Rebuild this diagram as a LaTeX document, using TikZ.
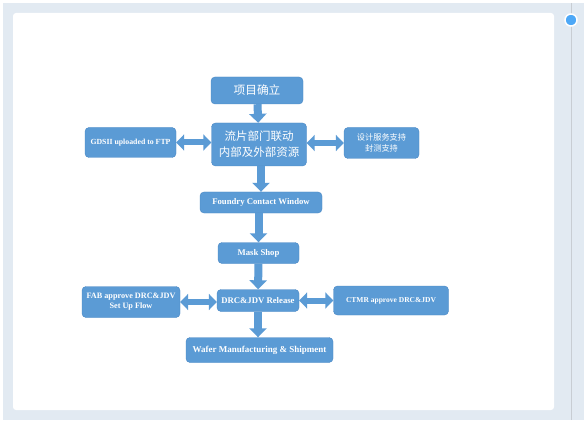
\documentclass[tikz,border=0pt]{standalone}
\usepackage{fontspec}
\setmainfont{Liberation Serif}
\newfontfamily\cjk{Noto Sans CJK SC}
\usepackage{xcolor}
\usetikzlibrary{arrows.meta,positioning}
\definecolor{boxblue}{HTML}{5B9BD5}
\definecolor{boxedge}{HTML}{4A88C4}
\definecolor{pagegrey}{HTML}{E2EAF2}
\definecolor{rulegrey}{HTML}{C8CDD3}
\definecolor{dotblue}{HTML}{4DA8F7}

\begin{document}
\begin{tikzpicture}[x=1pt,y=-1pt,
  flowbox/.style={draw=boxedge,fill=boxblue,rounded corners=4pt,text=white,align=center,inner sep=1pt},
  cnbox/.style={flowbox,font=\cjk},
  enbox/.style={flowbox,font=\bfseries\fontsize{8.7}{10}\selectfont},
  downarrow/.style={-{Triangle[length=9pt,width=17pt]},line width=8pt,boxblue},
  bothways/.style={{Triangle[length=8pt,width=16pt]}-{Triangle[length=8pt,width=16pt]},line width=6pt,boxblue}
]
\useasboundingbox (0,0) rectangle (584,425);
% page frame
\fill[pagegrey] (3,3) rectangle (584,420);
\fill[white,rounded corners=3pt] (13,13) rectangle (554,410);
\draw[rulegrey,line width=0.8pt] (571,3) -- (571,420);
\filldraw[fill=dotblue,draw=white,line width=1.5pt] (571,20) circle (6);

% main column
\node[cnbox,minimum width=92pt,minimum height=27pt,font=\cjk\fontsize{11.7}{13}\selectfont] (start) at (257,90.5) {项目确立};
\node[cnbox,minimum width=95pt,minimum height=43pt,font=\cjk\fontsize{11.5}{16}\selectfont] (link) at (259,144.5) {流片部门联动\\内部及外部资源};
\node[enbox,minimum width=122pt,minimum height=21pt] (window) at (261,202.5) {Foundry Contact Window};
\node[enbox,minimum width=81pt,minimum height=21pt] (mask) at (258.5,253) {Mask Shop};
\node[enbox,minimum width=82pt,minimum height=22pt] (drc) at (258,300.5) {DRC\&JDV Release};
\node[enbox,minimum width=147pt,minimum height=25pt,font=\bfseries\fontsize{9}{10}\selectfont] (wafer) at (259.5,350) {Wafer Manufacturing \& Shipment};

% side boxes
\node[enbox,minimum width=91pt,minimum height=30pt,font=\bfseries\fontsize{7.8}{9}\selectfont] (gds) at (130.5,142.5) {GDSII uploaded to FTP};
\node[cnbox,minimum width=75pt,minimum height=31pt,font=\cjk\fontsize{8.2}{11}\selectfont] (support) at (381.5,143) {设计服务支持\\封测支持};
\node[enbox,minimum width=98pt,minimum height=31pt,font=\bfseries\fontsize{8.2}{10}\selectfont] (fab) at (131,302) {FAB approve DRC\&JDV\\Set Up Flow};
\node[enbox,minimum width=115pt,minimum height=29pt,font=\bfseries\fontsize{7.5}{9}\selectfont] (ctmr) at (391,300.5) {CTMR approve DRC\&JDV};

\draw[downarrow] (start) -- (link);
\draw[downarrow] (link.south -| window) -- (window);
\draw[downarrow] (window.south -| mask) -- (mask);
\draw[downarrow] (mask) -- (drc);
\draw[downarrow] (drc) -- (drc |- wafer.north);
\draw[bothways] (gds) -- (gds -| link.west);
\draw[bothways] (link.east |- support) -- (support);
\draw[bothways] (fab) -- (fab -| drc.west);
\draw[bothways] (drc.east |- ctmr) -- (ctmr);
\end{tikzpicture}
\end{document}
